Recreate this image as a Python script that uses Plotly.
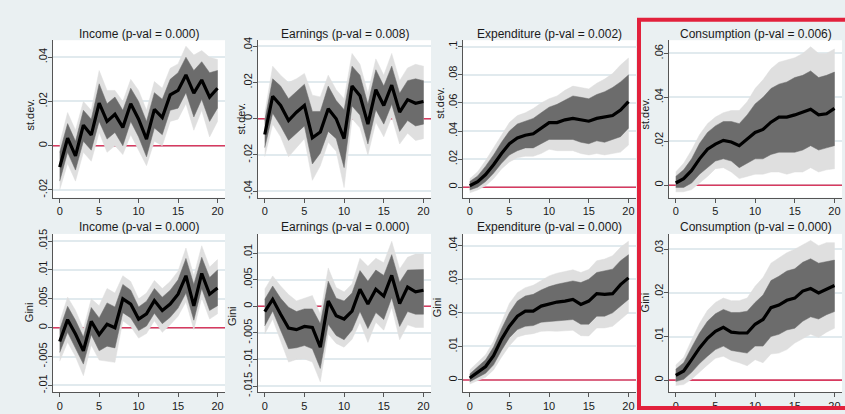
import plotly.graph_objects as go

# ---------------- data ----------------
horizon = [0, 1, 2, 3, 4, 5, 6, 7, 8, 9, 10, 11, 12, 13, 14, 15, 16, 17, 18, 19, 20]
x_ticks = [0, 5, 10, 15, 20]
x_ticktext = ["0", "5", "10", "15", "20"]

titles = ["Income (p-val = 0.000)", "Earnings (p-val = 0.008)",
          "Expenditure (p-val = 0.002)", "Consumption (p-val = 0.006)",
          "Income (p-val = 0.000)", "Earnings (p-val = 0.000)",
          "Expenditure (p-val = 0.000)", "Consumption (p-val = 0.000)"]
y_titles = ["st.dev.", "st.dev.", "st.dev.", "st.dev.", "Gini", "Gini", "Gini", "Gini"]

# Income, st.dev.
inc_sd_irf = [-0.0097, 0.0034, -0.0046, 0.0093, 0.0049, 0.0193, 0.0110, 0.0142, 0.0083, 0.0190, 0.0120,
              0.0030, 0.0164, 0.0127, 0.0230, 0.0250, 0.0320, 0.0238, 0.0297, 0.0220, 0.0260]
inc_sd_lo68 = [-0.016, -0.003, -0.011, 0.002, -0.002, 0.011, 0.003, 0.006, 0.000, 0.011, 0.004,
               -0.005, 0.008, 0.005, 0.016, 0.017, 0.024, 0.013, 0.021, 0.011, 0.017]
inc_sd_hi68 = [-0.003, 0.010, 0.002, 0.016, 0.012, 0.028, 0.019, 0.022, 0.016, 0.026, 0.020,
               0.011, 0.024, 0.021, 0.030, 0.033, 0.040, 0.034, 0.038, 0.033, 0.034]
inc_sd_lo90 = [-0.020, -0.008, -0.016, -0.003, -0.007, 0.006, -0.003, 0.000, -0.004, 0.005, -0.002,
               -0.009, 0.002, 0.000, 0.011, 0.012, 0.019, 0.007, 0.016, 0.004, 0.011]
inc_sd_hi90 = [0.001, 0.015, 0.007, 0.020, 0.016, 0.034, 0.025, 0.025, 0.020, 0.030, 0.025,
               0.016, 0.029, 0.026, 0.035, 0.037, 0.045, 0.041, 0.043, 0.040, 0.039]

# Earnings, st.dev.
ear_sd_irf = [-0.0087, 0.0124, 0.0073, -0.0010, 0.0036, 0.0073, -0.0105, -0.0073, 0.0055, 0.0000, -0.0110,
              0.0180, 0.0127, -0.0030, 0.0160, 0.0073, 0.0185, 0.0036, 0.0105, 0.0085, 0.0095]
ear_sd_lo68 = [-0.016, 0.003, -0.004, -0.012, -0.008, -0.004, -0.025, -0.019, -0.007, -0.011, -0.027,
               0.007, 0.002, -0.014, 0.005, -0.003, 0.008, -0.007, -0.001, -0.004, -0.003]
ear_sd_hi68 = [-0.001, 0.022, 0.018, 0.011, 0.015, 0.019, 0.004, 0.004, 0.018, 0.010, 0.005,
               0.029, 0.024, 0.008, 0.027, 0.018, 0.029, 0.014, 0.021, 0.022, 0.021]
ear_sd_lo90 = [-0.021, -0.003, -0.010, -0.021, -0.016, -0.011, -0.034, -0.026, -0.013, -0.018, -0.038,
               0.000, -0.005, -0.020, -0.002, -0.010, 0.001, -0.014, -0.008, -0.012, -0.011]
ear_sd_hi90 = [0.003, 0.029, 0.024, 0.020, 0.022, 0.025, 0.013, 0.012, 0.024, 0.016, 0.011,
               0.036, 0.030, 0.014, 0.033, 0.024, 0.036, 0.021, 0.028, 0.030, 0.029]

# Expenditure, st.dev.
exp_sd_irf = [0.001, 0.004, 0.009, 0.016, 0.024, 0.031, 0.035, 0.037, 0.038, 0.042, 0.046,
              0.046, 0.048, 0.049, 0.048, 0.047, 0.049, 0.050, 0.051, 0.055, 0.061]
exp_sd_lo68 = [-0.002, 0.000, 0.004, 0.010, 0.017, 0.023, 0.026, 0.028, 0.028, 0.031, 0.034,
               0.034, 0.034, 0.034, 0.032, 0.031, 0.033, 0.032, 0.034, 0.036, 0.042]
exp_sd_hi68 = [0.004, 0.008, 0.015, 0.023, 0.032, 0.040, 0.045, 0.047, 0.049, 0.053, 0.057,
               0.059, 0.062, 0.065, 0.064, 0.063, 0.066, 0.068, 0.071, 0.075, 0.080]
exp_sd_lo90 = [-0.004, -0.002, 0.001, 0.006, 0.013, 0.018, 0.021, 0.022, 0.022, 0.024, 0.027,
               0.026, 0.026, 0.026, 0.024, 0.023, 0.024, 0.023, 0.024, 0.025, 0.030]
exp_sd_hi90 = [0.006, 0.011, 0.019, 0.028, 0.037, 0.046, 0.051, 0.053, 0.056, 0.060, 0.063,
               0.065, 0.069, 0.072, 0.071, 0.070, 0.074, 0.077, 0.081, 0.087, 0.092]

# Consumption, st.dev.
con_sd_irf = [0.0010, 0.0030, 0.0067, 0.0120, 0.0164, 0.0187, 0.0204, 0.0197, 0.0180, 0.0210, 0.0240,
              0.0254, 0.0287, 0.0310, 0.0310, 0.0320, 0.0333, 0.0346, 0.0320, 0.0325, 0.0350]
con_sd_lo68 = [-0.001, -0.001, 0.001, 0.005, 0.008, 0.011, 0.012, 0.011, 0.008, 0.010, 0.012,
               0.012, 0.014, 0.015, 0.015, 0.015, 0.016, 0.018, 0.016, 0.017, 0.018]
con_sd_hi68 = [0.004, 0.007, 0.012, 0.019, 0.024, 0.027, 0.029, 0.029, 0.028, 0.032, 0.037,
               0.040, 0.044, 0.046, 0.047, 0.049, 0.050, 0.052, 0.049, 0.050, 0.0515]
con_sd_lo90 = [-0.003, -0.003, -0.002, 0.001, 0.004, 0.0075, 0.008, 0.006, 0.003, 0.004, 0.005,
               0.005, 0.006, 0.006, 0.005, 0.006, 0.006, 0.008, 0.006, 0.007, 0.0075]
con_sd_hi90 = [0.006, 0.010, 0.016, 0.023, 0.028, 0.031, 0.033, 0.034, 0.034, 0.038, 0.044,
               0.048, 0.053, 0.056, 0.057, 0.058, 0.060, 0.063, 0.060, 0.060, 0.062]

# Income, Gini
inc_gi_irf = [-0.0024, 0.0014, -0.0011, -0.0040, 0.0011, -0.0012, 0.0006, 0.0000, 0.0050, 0.0041, 0.0015,
              0.0024, 0.0047, 0.0030, 0.0041, 0.0058, 0.0090, 0.0038, 0.0094, 0.0058, 0.0069]
inc_gi_lo68 = [-0.0043, -0.0008, -0.0035, -0.0063, -0.0012, -0.0040, -0.0032, -0.0035, 0.0026, 0.0017, -0.0005,
               0.0003, 0.0025, 0.0007, 0.0018, 0.0034, 0.0060, 0.0013, 0.0068, 0.0030, 0.0038]
inc_gi_hi68 = [-0.0003, 0.0037, 0.0013, -0.0016, 0.0035, 0.0017, 0.0043, 0.0036, 0.0075, 0.0065, 0.0036,
               0.0046, 0.0068, 0.0053, 0.0065, 0.0083, 0.0120, 0.0075, 0.0122, 0.0087, 0.0100]
inc_gi_lo90 = [-0.0058, -0.0025, -0.0050, -0.0083, -0.0030, -0.0056, -0.0058, -0.0060, 0.0012, 0.0002, -0.0018,
               -0.0010, 0.0012, -0.0008, 0.0005, 0.0020, 0.0045, -0.0003, 0.0052, 0.0015, 0.0024]
inc_gi_hi90 = [0.0010, 0.0053, 0.0030, -0.0002, 0.0050, 0.0038, 0.0068, 0.0060, 0.0090, 0.0080, 0.0050,
               0.0060, 0.0082, 0.0068, 0.0080, 0.0098, 0.0138, 0.0090, 0.0142, 0.0105, 0.0118]

# Earnings, Gini
ear_gi_irf = [-0.0010, 0.0013, -0.0015, -0.0041, -0.0044, -0.0038, -0.0040, -0.0077, 0.0010, -0.0018, -0.0024,
              -0.0009, 0.0032, 0.0004, 0.0032, 0.0019, 0.0058, 0.0005, 0.0036, 0.0027, 0.0030]
ear_gi_lo68 = [-0.0037, -0.0009, -0.0045, -0.0080, -0.0078, -0.0074, -0.0080, -0.0117, -0.0034, -0.0055, -0.0063,
               -0.0045, -0.0010, -0.0042, -0.0012, -0.0025, 0.0016, -0.0038, -0.0010, -0.0015, -0.0015]
ear_gi_hi68 = [0.0013, 0.0038, 0.0015, -0.0002, -0.0010, -0.0005, -0.0005, -0.0033, 0.0047, 0.0015, 0.0010,
               0.0025, 0.0067, 0.0047, 0.0068, 0.0058, 0.0097, 0.0045, 0.0068, 0.0068, 0.0069]
ear_gi_lo90 = [-0.0052, -0.0024, -0.0065, -0.0105, -0.0100, -0.0099, -0.0105, -0.0142, -0.0052, -0.0070, -0.0077,
               -0.0062, -0.0030, -0.0068, -0.0030, -0.0045, -0.0002, -0.0063, -0.0035, -0.0040, -0.0040]
ear_gi_hi90 = [0.0032, 0.0057, 0.0038, 0.0022, 0.0010, 0.0015, 0.0020, -0.0015, 0.0072, 0.0035, 0.0027,
               0.0042, 0.0090, 0.0075, 0.0090, 0.0082, 0.0122, 0.0070, 0.0092, 0.0098, 0.0098]

# Expenditure, Gini
exp_gi_irf = [0.0006, 0.0023, 0.0040, 0.0072, 0.0121, 0.0160, 0.0190, 0.0205, 0.0205, 0.0220, 0.0227,
              0.0232, 0.0235, 0.0240, 0.0225, 0.0235, 0.0257, 0.0255, 0.0257, 0.0284, 0.0304]
exp_gi_lo68 = [-0.0005, 0.0008, 0.0020, 0.0045, 0.0088, 0.0126, 0.0150, 0.0160, 0.0162, 0.0172, 0.0176,
               0.0176, 0.0178, 0.0180, 0.0166, 0.0166, 0.0190, 0.0190, 0.0200, 0.0220, 0.0240]
exp_gi_hi68 = [0.0018, 0.0040, 0.0060, 0.0098, 0.0152, 0.0200, 0.0235, 0.0250, 0.0255, 0.0268, 0.0278,
               0.0285, 0.0290, 0.0295, 0.0290, 0.0300, 0.0320, 0.0325, 0.0330, 0.0355, 0.0373]
exp_gi_lo90 = [-0.0012, -0.0002, 0.0008, 0.0030, 0.0068, 0.0102, 0.0128, 0.0135, 0.0138, 0.0145, 0.0146,
               0.0145, 0.0146, 0.0148, 0.0132, 0.0131, 0.0155, 0.0155, 0.0160, 0.0180, 0.0200]
exp_gi_hi90 = [0.0030, 0.0052, 0.0075, 0.0115, 0.0172, 0.0228, 0.0260, 0.0275, 0.0282, 0.0295, 0.0310,
               0.0318, 0.0322, 0.0328, 0.0320, 0.0329, 0.0355, 0.0360, 0.0370, 0.0395, 0.0413]

# Consumption, Gini
con_gi_irf = [0.0011, 0.0021, 0.0047, 0.0074, 0.0096, 0.0112, 0.0121, 0.0110, 0.0108, 0.0108, 0.0128,
              0.0139, 0.0166, 0.0172, 0.0183, 0.0188, 0.0204, 0.0210, 0.0200, 0.0208, 0.0217]
con_gi_lo68 = [-0.0003, 0.0002, 0.0018, 0.0038, 0.0055, 0.0070, 0.0078, 0.0068, 0.0065, 0.0062, 0.0078,
               0.0078, 0.0100, 0.0105, 0.0115, 0.0119, 0.0135, 0.0145, 0.0140, 0.0150, 0.0157]
con_gi_hi68 = [0.0025, 0.0040, 0.0075, 0.0108, 0.0135, 0.0152, 0.0162, 0.0155, 0.0155, 0.0158, 0.0178,
               0.0195, 0.0228, 0.0238, 0.0250, 0.0255, 0.0270, 0.0278, 0.0268, 0.0272, 0.0275]
con_gi_lo90 = [-0.0012, -0.0010, 0.0002, 0.0018, 0.0035, 0.0050, 0.0055, 0.0045, 0.0040, 0.0033, 0.0047,
               0.0040, 0.0060, 0.0062, 0.0070, 0.0085, 0.0095, 0.0105, 0.0098, 0.0110, 0.0119]
con_gi_hi90 = [0.0035, 0.0052, 0.0092, 0.0130, 0.0160, 0.0178, 0.0188, 0.0182, 0.0182, 0.0188, 0.0215,
               0.0235, 0.0268, 0.0280, 0.0292, 0.0300, 0.0310, 0.0320, 0.0308, 0.0315, 0.0315]

# y-axis ticks
inc_sd_ticks = [-0.02, 0, 0.02, 0.04]
inc_sd_ticktext = ["-.02", "0", ".02", ".04"]
ear_sd_ticks = [-0.04, -0.02, 0, 0.02, 0.04]
ear_sd_ticktext = ["-.04", "-.02", "0", ".02", ".04"]
exp_sd_ticks = [0, 0.02, 0.04, 0.06, 0.08, 0.1]
exp_sd_ticktext = ["0", ".02", ".04", ".06", ".08", ".1"]
con_sd_ticks = [0, 0.02, 0.04, 0.06]
con_sd_ticktext = ["0", ".02", ".04", ".06"]
inc_gi_ticks = [-0.01, -0.005, 0, 0.005, 0.01, 0.015]
inc_gi_ticktext = ["-.01", "-.005", "0", ".005", ".01", ".015"]
ear_gi_ticks = [-0.015, -0.01, -0.005, 0, 0.005, 0.01]
ear_gi_ticktext = ["-.015", "-.01", "-.005", "0", ".005", ".01"]
exp_gi_ticks = [0, 0.01, 0.02, 0.03, 0.04]
exp_gi_ticktext = ["0", ".01", ".02", ".03", ".04"]
con_gi_ticks = [0, 0.01, 0.02, 0.03]
con_gi_ticktext = ["0", ".01", ".02", ".03"]

panels = [
    (inc_sd_irf, inc_sd_lo68, inc_sd_hi68, inc_sd_lo90, inc_sd_hi90, inc_sd_ticks, inc_sd_ticktext),
    (ear_sd_irf, ear_sd_lo68, ear_sd_hi68, ear_sd_lo90, ear_sd_hi90, ear_sd_ticks, ear_sd_ticktext),
    (exp_sd_irf, exp_sd_lo68, exp_sd_hi68, exp_sd_lo90, exp_sd_hi90, exp_sd_ticks, exp_sd_ticktext),
    (con_sd_irf, con_sd_lo68, con_sd_hi68, con_sd_lo90, con_sd_hi90, con_sd_ticks, con_sd_ticktext),
    (inc_gi_irf, inc_gi_lo68, inc_gi_hi68, inc_gi_lo90, inc_gi_hi90, inc_gi_ticks, inc_gi_ticktext),
    (ear_gi_irf, ear_gi_lo68, ear_gi_hi68, ear_gi_lo90, ear_gi_hi90, ear_gi_ticks, ear_gi_ticktext),
    (exp_gi_irf, exp_gi_lo68, exp_gi_hi68, exp_gi_lo90, exp_gi_hi90, exp_gi_ticks, exp_gi_ticktext),
    (con_gi_irf, con_gi_lo68, con_gi_hi68, con_gi_lo90, con_gi_hi90, con_gi_ticks, con_gi_ticktext),
]

# ---------------- layout / style ----------------
W, H = 845, 414
FONT = "Liberation Sans, Arial, Helvetica, sans-serif"
BG = "#eaf0f2"
LIGHT = "#dfdfdf"
DARK = "#6c6c6c"
ZERO = "#d83a5f"
BOX = "#e2213c"
AXIS = "#555555"
GRID = "#e1eaee"
TXT = "#1a1a1a"

col_px = [(53, 225), (258, 431), (463, 636), (669, 842)]
row_px = [(36, 197), (234, 396)]
x_range = [-0.85, 20.95]
y_ranges = [[-0.0235, 0.0477], [-0.0436, 0.0433], [-0.0075, 0.1047], [-0.0057, 0.066],
            [-0.0112, 0.01625], [-0.0162, 0.0136], [-0.0037, 0.0435], [-0.0028, 0.0335]]
ytitle_px = [(30, 112), (241, 116), (440, 100), (645, 111),
             (29, 314), (232, 318), (437, 309), (645, 304)]
title_y_px = [30, 227]

fig = go.Figure()
layout = dict(width=W, height=H, autosize=False,
              margin=dict(l=0, r=0, t=0, b=0, pad=0),
              paper_bgcolor=BG, plot_bgcolor="white",
              showlegend=False, font=dict(family=FONT, size=11, color=TXT))
annotations = []

for i, (irf, lo68, hi68, lo90, hi90, yt, ytt) in enumerate(panels):
    r, c = divmod(i, 4)
    sfx = "" if i == 0 else str(i + 1)
    xa, ya = "x" + sfx, "y" + sfx
    rev = horizon[::-1]
    # red reference line at zero across the whole axis range (drawn beneath the bands)
    fig.add_trace(go.Scatter(x=x_range, y=[0, 0], mode="lines",
                             line=dict(color=ZERO, width=1.6),
                             xaxis=xa, yaxis=ya, hoverinfo="skip"))
    fig.add_trace(go.Scatter(x=horizon + rev, y=hi90 + lo90[::-1], fill="toself",
                             fillcolor=LIGHT, line=dict(width=0.5, color=LIGHT), mode="lines",
                             xaxis=xa, yaxis=ya, hoverinfo="skip"))
    fig.add_trace(go.Scatter(x=horizon + rev, y=hi68 + lo68[::-1], fill="toself",
                             fillcolor=DARK, line=dict(width=0.5, color=DARK), mode="lines",
                             xaxis=xa, yaxis=ya, hoverinfo="skip"))
    fig.add_trace(go.Scatter(x=horizon, y=irf, mode="lines",
                             line=dict(color="black", width=3.2),
                             xaxis=xa, yaxis=ya, hoverinfo="skip"))
    x0, x1 = col_px[c]
    top, bot = row_px[r]
    layout["xaxis" + sfx] = dict(domain=[x0 / W, x1 / W], range=x_range, anchor=ya,
                                 tickvals=x_ticks, ticktext=x_ticktext,
                                 showgrid=False, zeroline=False, showline=True,
                                 linecolor=AXIS, linewidth=1, ticks="outside", ticklen=4,
                                 tickcolor=AXIS, tickfont=dict(size=11, color=TXT),
                                 ticklabelstandoff=-1)
    layout["yaxis" + sfx] = dict(domain=[1 - bot / H, 1 - top / H], range=y_ranges[i], anchor=xa,
                                 tickvals=yt, ticktext=ytt, tickangle=-90,
                                 showgrid=True, gridcolor=GRID, gridwidth=1.5,
                                 zeroline=False, showline=True,
                                 linecolor=AXIS, linewidth=1, ticks="outside", ticklen=4,
                                 tickcolor=AXIS, tickfont=dict(size=11, color=TXT),
                                 ticklabelstandoff=-3)
    annotations.append(dict(text=titles[i], xref="paper", yref="paper",
                            x=(x0 + x1) / 2 / W, y=1 - title_y_px[r] / H,
                            xanchor="center", yanchor="middle", showarrow=False,
                            font=dict(size=12, color=TXT)))
    tx, ty = ytitle_px[i]
    annotations.append(dict(text=y_titles[i], xref="paper", yref="paper",
                            x=tx / W, y=1 - ty / H, textangle=-90,
                            xanchor="center", yanchor="middle", showarrow=False,
                            font=dict(size=11, color=TXT)))

# red highlight box around the consumption column
shapes = [dict(type="rect", xref="paper", yref="paper",
               x0=639 / W, x1=1.02, y0=1 - 412 / H, y1=1 - 15 / H,
               line=dict(color=BOX, width=4), fillcolor="rgba(0,0,0,0)", layer="above")]

layout["shapes"] = shapes
layout["annotations"] = annotations
fig.update_layout(**layout)
fig.write_html("out.html",
               config={"displayModeBar": False},
               post_script="document.body.style.margin='0';document.body.style.padding='0';"
                           "document.documentElement.style.overflow='hidden';")
